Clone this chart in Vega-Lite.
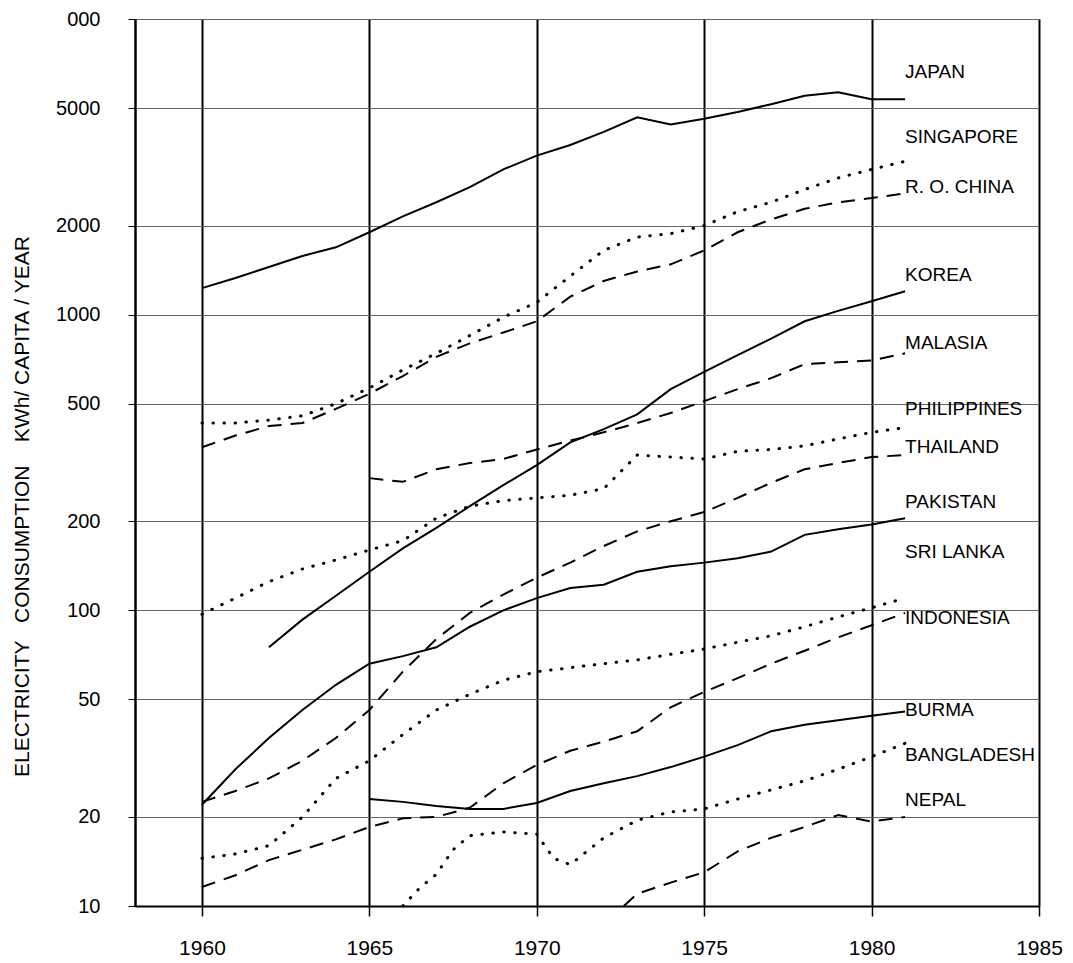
{
  "$schema": "https://vega.github.io/schema/vega-lite/v6.json",
  "width": 904,
  "height": 887,
  "autosize": {"type": "none"},
  "padding": {"left": 135, "top": 19, "right": 34, "bottom": 57},
  "background": "white",
  "config": {"view": {"stroke": null}, "font": "Liberation Sans"},
  "datasets": {
    "lines": [
      {"country":"Japan","year":1960,"kwh":1230},{"country":"Japan","year":1961,"kwh":1330},{"country":"Japan","year":1962,"kwh":1450},{"country":"Japan","year":1963,"kwh":1580},{"country":"Japan","year":1964,"kwh":1690},{"country":"Japan","year":1965,"kwh":1900},{"country":"Japan","year":1966,"kwh":2150},{"country":"Japan","year":1967,"kwh":2400},{"country":"Japan","year":1968,"kwh":2700},{"country":"Japan","year":1969,"kwh":3100},{"country":"Japan","year":1970,"kwh":3450},{"country":"Japan","year":1971,"kwh":3750},{"country":"Japan","year":1972,"kwh":4150},{"country":"Japan","year":1973,"kwh":4650},{"country":"Japan","year":1974,"kwh":4400},{"country":"Japan","year":1975,"kwh":4600},{"country":"Japan","year":1976,"kwh":4850},{"country":"Japan","year":1977,"kwh":5150},{"country":"Japan","year":1978,"kwh":5500},{"country":"Japan","year":1979,"kwh":5650},{"country":"Japan","year":1980,"kwh":5350},{"country":"Japan","year":1981,"kwh":5350},
      {"country":"Singapore","year":1960,"kwh":430},{"country":"Singapore","year":1961,"kwh":430},{"country":"Singapore","year":1962,"kwh":440},{"country":"Singapore","year":1963,"kwh":455},{"country":"Singapore","year":1964,"kwh":500},{"country":"Singapore","year":1965,"kwh":565},{"country":"Singapore","year":1966,"kwh":650},{"country":"Singapore","year":1967,"kwh":740},{"country":"Singapore","year":1968,"kwh":850},{"country":"Singapore","year":1969,"kwh":980},{"country":"Singapore","year":1970,"kwh":1100},{"country":"Singapore","year":1971,"kwh":1350},{"country":"Singapore","year":1972,"kwh":1650},{"country":"Singapore","year":1973,"kwh":1830},{"country":"Singapore","year":1974,"kwh":1880},{"country":"Singapore","year":1975,"kwh":2000},{"country":"Singapore","year":1976,"kwh":2230},{"country":"Singapore","year":1977,"kwh":2400},{"country":"Singapore","year":1978,"kwh":2650},{"country":"Singapore","year":1979,"kwh":2900},{"country":"Singapore","year":1980,"kwh":3100},{"country":"Singapore","year":1981,"kwh":3300},
      {"country":"R.O.China","year":1960,"kwh":356},{"country":"R.O.China","year":1961,"kwh":390},{"country":"R.O.China","year":1962,"kwh":420},{"country":"R.O.China","year":1963,"kwh":430},{"country":"R.O.China","year":1964,"kwh":480},{"country":"R.O.China","year":1965,"kwh":540},{"country":"R.O.China","year":1966,"kwh":620},{"country":"R.O.China","year":1967,"kwh":720},{"country":"R.O.China","year":1968,"kwh":800},{"country":"R.O.China","year":1969,"kwh":870},{"country":"R.O.China","year":1970,"kwh":950},{"country":"R.O.China","year":1971,"kwh":1150},{"country":"R.O.China","year":1972,"kwh":1300},{"country":"R.O.China","year":1973,"kwh":1400},{"country":"R.O.China","year":1974,"kwh":1480},{"country":"R.O.China","year":1975,"kwh":1650},{"country":"R.O.China","year":1976,"kwh":1900},{"country":"R.O.China","year":1977,"kwh":2100},{"country":"R.O.China","year":1978,"kwh":2280},{"country":"R.O.China","year":1979,"kwh":2400},{"country":"R.O.China","year":1980,"kwh":2480},{"country":"R.O.China","year":1981,"kwh":2570},
      {"country":"Korea","year":1962,"kwh":75},{"country":"Korea","year":1963,"kwh":93},{"country":"Korea","year":1964,"kwh":112},{"country":"Korea","year":1965,"kwh":135},{"country":"Korea","year":1966,"kwh":162},{"country":"Korea","year":1967,"kwh":190},{"country":"Korea","year":1968,"kwh":225},{"country":"Korea","year":1969,"kwh":265},{"country":"Korea","year":1970,"kwh":310},{"country":"Korea","year":1971,"kwh":370},{"country":"Korea","year":1972,"kwh":410},{"country":"Korea","year":1973,"kwh":460},{"country":"Korea","year":1974,"kwh":560},{"country":"Korea","year":1975,"kwh":640},{"country":"Korea","year":1976,"kwh":730},{"country":"Korea","year":1977,"kwh":830},{"country":"Korea","year":1978,"kwh":950},{"country":"Korea","year":1979,"kwh":1030},{"country":"Korea","year":1980,"kwh":1110},{"country":"Korea","year":1981,"kwh":1200},
      {"country":"Malasia","year":1965,"kwh":280},{"country":"Malasia","year":1966,"kwh":272},{"country":"Malasia","year":1967,"kwh":300},{"country":"Malasia","year":1968,"kwh":315},{"country":"Malasia","year":1969,"kwh":325},{"country":"Malasia","year":1970,"kwh":350},{"country":"Malasia","year":1971,"kwh":375},{"country":"Malasia","year":1972,"kwh":400},{"country":"Malasia","year":1973,"kwh":430},{"country":"Malasia","year":1974,"kwh":465},{"country":"Malasia","year":1975,"kwh":510},{"country":"Malasia","year":1976,"kwh":560},{"country":"Malasia","year":1977,"kwh":610},{"country":"Malasia","year":1978,"kwh":680},{"country":"Malasia","year":1979,"kwh":690},{"country":"Malasia","year":1980,"kwh":700},{"country":"Malasia","year":1981,"kwh":740},
      {"country":"Philippines","year":1960,"kwh":97},{"country":"Philippines","year":1961,"kwh":110},{"country":"Philippines","year":1962,"kwh":125},{"country":"Philippines","year":1963,"kwh":138},{"country":"Philippines","year":1964,"kwh":148},{"country":"Philippines","year":1965,"kwh":160},{"country":"Philippines","year":1966,"kwh":172},{"country":"Philippines","year":1967,"kwh":205},{"country":"Philippines","year":1968,"kwh":225},{"country":"Philippines","year":1969,"kwh":235},{"country":"Philippines","year":1970,"kwh":240},{"country":"Philippines","year":1971,"kwh":245},{"country":"Philippines","year":1972,"kwh":258},{"country":"Philippines","year":1973,"kwh":335},{"country":"Philippines","year":1974,"kwh":330},{"country":"Philippines","year":1975,"kwh":325},{"country":"Philippines","year":1976,"kwh":345},{"country":"Philippines","year":1977,"kwh":350},{"country":"Philippines","year":1978,"kwh":360},{"country":"Philippines","year":1979,"kwh":380},{"country":"Philippines","year":1980,"kwh":400},{"country":"Philippines","year":1981,"kwh":415},
      {"country":"Thailand","year":1960,"kwh":22.5},{"country":"Thailand","year":1961,"kwh":24.5},{"country":"Thailand","year":1962,"kwh":27},{"country":"Thailand","year":1963,"kwh":31},{"country":"Thailand","year":1964,"kwh":37},{"country":"Thailand","year":1965,"kwh":46},{"country":"Thailand","year":1966,"kwh":62},{"country":"Thailand","year":1967,"kwh":80},{"country":"Thailand","year":1968,"kwh":98},{"country":"Thailand","year":1969,"kwh":113},{"country":"Thailand","year":1970,"kwh":129},{"country":"Thailand","year":1971,"kwh":145},{"country":"Thailand","year":1972,"kwh":165},{"country":"Thailand","year":1973,"kwh":185},{"country":"Thailand","year":1974,"kwh":200},{"country":"Thailand","year":1975,"kwh":215},{"country":"Thailand","year":1976,"kwh":240},{"country":"Thailand","year":1977,"kwh":270},{"country":"Thailand","year":1978,"kwh":300},{"country":"Thailand","year":1979,"kwh":315},{"country":"Thailand","year":1980,"kwh":330},{"country":"Thailand","year":1981,"kwh":335},
      {"country":"Pakistan","year":1960,"kwh":22},{"country":"Pakistan","year":1961,"kwh":29},{"country":"Pakistan","year":1962,"kwh":37},{"country":"Pakistan","year":1963,"kwh":46},{"country":"Pakistan","year":1964,"kwh":56},{"country":"Pakistan","year":1965,"kwh":66},{"country":"Pakistan","year":1966,"kwh":70},{"country":"Pakistan","year":1967,"kwh":75},{"country":"Pakistan","year":1968,"kwh":88},{"country":"Pakistan","year":1969,"kwh":100},{"country":"Pakistan","year":1970,"kwh":110},{"country":"Pakistan","year":1971,"kwh":119},{"country":"Pakistan","year":1972,"kwh":122},{"country":"Pakistan","year":1973,"kwh":135},{"country":"Pakistan","year":1974,"kwh":141},{"country":"Pakistan","year":1975,"kwh":145},{"country":"Pakistan","year":1976,"kwh":150},{"country":"Pakistan","year":1977,"kwh":158},{"country":"Pakistan","year":1978,"kwh":180},{"country":"Pakistan","year":1979,"kwh":188},{"country":"Pakistan","year":1980,"kwh":195},{"country":"Pakistan","year":1981,"kwh":205},
      {"country":"Sri Lanka","year":1960,"kwh":14.5},{"country":"Sri Lanka","year":1961,"kwh":15},{"country":"Sri Lanka","year":1962,"kwh":16},{"country":"Sri Lanka","year":1963,"kwh":20},{"country":"Sri Lanka","year":1964,"kwh":27},{"country":"Sri Lanka","year":1965,"kwh":31},{"country":"Sri Lanka","year":1966,"kwh":38},{"country":"Sri Lanka","year":1967,"kwh":46},{"country":"Sri Lanka","year":1968,"kwh":52},{"country":"Sri Lanka","year":1969,"kwh":58},{"country":"Sri Lanka","year":1970,"kwh":62},{"country":"Sri Lanka","year":1971,"kwh":64},{"country":"Sri Lanka","year":1972,"kwh":66},{"country":"Sri Lanka","year":1973,"kwh":68},{"country":"Sri Lanka","year":1974,"kwh":71},{"country":"Sri Lanka","year":1975,"kwh":74},{"country":"Sri Lanka","year":1976,"kwh":78},{"country":"Sri Lanka","year":1977,"kwh":82},{"country":"Sri Lanka","year":1978,"kwh":88},{"country":"Sri Lanka","year":1979,"kwh":95},{"country":"Sri Lanka","year":1980,"kwh":102},{"country":"Sri Lanka","year":1981,"kwh":110},
      {"country":"Indonesia","year":1960,"kwh":11.6},{"country":"Indonesia","year":1961,"kwh":12.7},{"country":"Indonesia","year":1962,"kwh":14.3},{"country":"Indonesia","year":1963,"kwh":15.5},{"country":"Indonesia","year":1964,"kwh":16.8},{"country":"Indonesia","year":1965,"kwh":18.5},{"country":"Indonesia","year":1966,"kwh":19.8},{"country":"Indonesia","year":1967,"kwh":20},{"country":"Indonesia","year":1968,"kwh":21.5},{"country":"Indonesia","year":1969,"kwh":26},{"country":"Indonesia","year":1970,"kwh":30},{"country":"Indonesia","year":1971,"kwh":33.5},{"country":"Indonesia","year":1972,"kwh":36},{"country":"Indonesia","year":1973,"kwh":39},{"country":"Indonesia","year":1974,"kwh":47},{"country":"Indonesia","year":1975,"kwh":53},{"country":"Indonesia","year":1976,"kwh":59},{"country":"Indonesia","year":1977,"kwh":66},{"country":"Indonesia","year":1978,"kwh":73},{"country":"Indonesia","year":1979,"kwh":81},{"country":"Indonesia","year":1980,"kwh":89},{"country":"Indonesia","year":1981,"kwh":98},
      {"country":"Burma","year":1965,"kwh":23},{"country":"Burma","year":1966,"kwh":22.5},{"country":"Burma","year":1967,"kwh":21.8},{"country":"Burma","year":1968,"kwh":21.3},{"country":"Burma","year":1969,"kwh":21.3},{"country":"Burma","year":1970,"kwh":22.3},{"country":"Burma","year":1971,"kwh":24.5},{"country":"Burma","year":1972,"kwh":26},{"country":"Burma","year":1973,"kwh":27.5},{"country":"Burma","year":1974,"kwh":29.5},{"country":"Burma","year":1975,"kwh":32},{"country":"Burma","year":1976,"kwh":35},{"country":"Burma","year":1977,"kwh":39},{"country":"Burma","year":1978,"kwh":41},{"country":"Burma","year":1979,"kwh":42.5},{"country":"Burma","year":1980,"kwh":44},{"country":"Burma","year":1981,"kwh":45.5},
      {"country":"Bangladesh","year":1966,"kwh":10},{"country":"Bangladesh","year":1966.5,"kwh":11.5},{"country":"Bangladesh","year":1967,"kwh":12.8},{"country":"Bangladesh","year":1967.5,"kwh":15.5},{"country":"Bangladesh","year":1968,"kwh":17.3},{"country":"Bangladesh","year":1969,"kwh":17.8},{"country":"Bangladesh","year":1970,"kwh":17.5},{"country":"Bangladesh","year":1970.5,"kwh":14.5},{"country":"Bangladesh","year":1971,"kwh":13.8},{"country":"Bangladesh","year":1972,"kwh":17},{"country":"Bangladesh","year":1973,"kwh":19.5},{"country":"Bangladesh","year":1974,"kwh":20.8},{"country":"Bangladesh","year":1975,"kwh":21.3},{"country":"Bangladesh","year":1976,"kwh":23},{"country":"Bangladesh","year":1977,"kwh":24.7},{"country":"Bangladesh","year":1978,"kwh":26.5},{"country":"Bangladesh","year":1979,"kwh":29},{"country":"Bangladesh","year":1980,"kwh":32},{"country":"Bangladesh","year":1981,"kwh":35.5},
      {"country":"Nepal","year":1972.6,"kwh":10},{"country":"Nepal","year":1973,"kwh":11},{"country":"Nepal","year":1974,"kwh":12},{"country":"Nepal","year":1975,"kwh":13},{"country":"Nepal","year":1976,"kwh":15.3},{"country":"Nepal","year":1977,"kwh":17},{"country":"Nepal","year":1978,"kwh":18.5},{"country":"Nepal","year":1979,"kwh":20.3},{"country":"Nepal","year":1980,"kwh":19.3},{"country":"Nepal","year":1981,"kwh":20}
    ],
    "labels": [
      {"label":"JAPAN","year":1981,"kwh":6620},
      {"label":"SINGAPORE","year":1981,"kwh":3990},
      {"label":"R. O. CHINA","year":1981,"kwh":2700},
      {"label":"KOREA","year":1981,"kwh":1362},
      {"label":"MALASIA","year":1981,"kwh":802},
      {"label":"PHILIPPINES","year":1981,"kwh":480},
      {"label":"THAILAND","year":1981,"kwh":357},
      {"label":"PAKISTAN","year":1981,"kwh":233},
      {"label":"SRI LANKA","year":1981,"kwh":157},
      {"label":"INDONESIA","year":1981,"kwh":94},
      {"label":"BURMA","year":1981,"kwh":46},
      {"label":"BANGLADESH","year":1981,"kwh":32.4},
      {"label":"NEPAL","year":1981,"kwh":22.8}
    ]
  },
  "encoding": {
    "x": {
      "field": "year", "type": "quantitative",
      "scale": {"domain": [1958, 1985], "nice": false, "zero": false},
      "axis": {
        "values": [1960, 1965, 1970, 1975, 1980, 1985],
        "format": "d", "title": null,
        "grid": true, "gridColor": "black", "gridWidth": 2, "gridOpacity": 1,
        "domainColor": "black", "domainWidth": 2,
        "tickColor": "black", "tickWidth": 1.5, "tickSize": 10,
        "labelFontSize": 21, "labelPadding": 21, "labelColor": "black",
        "labelFont": "Liberation Sans", "labelFlush": false, "labelOverlap": false
      }
    },
    "y": {
      "field": "kwh", "type": "quantitative",
      "scale": {"type": "log", "domain": [10, 10000], "nice": false},
      "axis": {
        "values": [10, 20, 50, 100, 200, 500, 1000, 2000, 5000, 10000],
        "format": "d",
        "labelExpr": "datum.value == 10000 ? '000' : datum.label",
        "title": "ELECTRICITY\u00a0\u00a0\u00a0CONSUMPTION\u00a0\u00a0\u00a0\u00a0KWh/\u00a0CAPITA\u00a0/\u00a0YEAR",
        "titleFont": "Liberation Sans", "titleFontSize": 21, "titleFontWeight": "normal",
        "titleColor": "black", "titleAngle": 270, "titleX": -113, "titleY": 487,
        "titleAlign": "center", "titleBaseline": "middle",
        "grid": true, "gridColor": "#555555", "gridWidth": 1, "gridOpacity": 0.9,
        "domainColor": "black", "domainWidth": 2.5,
        "tickColor": "black", "tickWidth": 1, "tickSize": 7,
        "labelFontSize": 20, "labelPadding": 28, "labelColor": "black",
        "labelFont": "Liberation Sans", "labelFlush": false, "labelOverlap": false
      }
    }
  },
  "layer": [
    {
      "data": {"name": "lines"},
      "transform": [{"filter": {"field": "country", "oneOf": ["Japan", "Korea", "Pakistan", "Burma"]}}],
      "mark": {"type": "line", "color": "black", "strokeWidth": 2},
      "encoding": {"detail": {"field": "country"}}
    },
    {
      "data": {"name": "lines"},
      "transform": [{"filter": {"field": "country", "oneOf": ["Singapore", "Philippines", "Sri Lanka", "Bangladesh"]}}],
      "mark": {"type": "line", "color": "black", "strokeWidth": 3, "strokeCap": "round", "strokeDash": [0.5, 10.5]},
      "encoding": {"detail": {"field": "country"}}
    },
    {
      "data": {"name": "lines"},
      "transform": [{"filter": {"field": "country", "oneOf": ["R.O.China", "Malasia", "Thailand", "Indonesia", "Nepal"]}}],
      "mark": {"type": "line", "color": "black", "strokeWidth": 2, "strokeDash": [14, 9]},
      "encoding": {"detail": {"field": "country"}}
    },
    {
      "data": {"name": "labels"},
      "mark": {"type": "text", "align": "left", "baseline": "middle", "fontSize": 19, "font": "Liberation Sans", "color": "black"},
      "encoding": {"text": {"field": "label"}}
    }
  ]
}
